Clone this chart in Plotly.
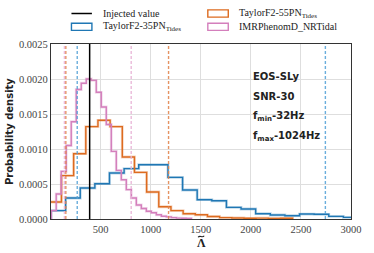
import plotly.graph_objects as go

# ---------------- data ----------------
# TaylorF2-35PN_Tides histogram (bin start, bin width, densities)
f35_start = 4
f35_width = 146
f35_density = [1.19e-4, 3.0e-4, 4.43e-4, 5.04e-4, 6.57e-4, 7.19e-4, 7.76e-4, 7.76e-4,
               5.94e-4, 4.14e-4, 2.76e-4, 2.6e-4, 1.66e-4, 1.43e-4, 7.6e-5, 5.7e-5,
               4.7e-5, 7.1e-5, 6.7e-5, 3.7e-5, 2.3e-5]

# TaylorF2-55PN_Tides histogram
f55_start = -13
f55_width = 121.5
f55_density = [2.43e-4, 6.2e-4, 9.33e-4, 1.32e-3, 1.41e-3, 1.32e-3, 8.86e-4, 6.66e-4,
               3.86e-4, 1.75e-4, 1.2e-4, 7.5e-5, 6.0e-5, 3.5e-5, 2.0e-5, 1.5e-5,
               1.0e-5, 1.2e-5, 8e-6, 1.0e-5]

# IMRPhenomD_NRTidal histogram
imr_start = 6
imr_width = 50
imr_density = [1.2e-4, 3.57e-4, 6.8e-4, 1.05e-3, 1.39e-3, 1.85e-3, 1.94e-3, 2.0e-3,
               1.98e-3, 1.81e-3, 1.6e-3, 1.35e-3, 9.66e-4, 6.94e-4, 5.6e-4, 4.2e-4,
               3.0e-4, 2.0e-4, 1.5e-4, 1.1e-4, 9e-5, 6e-5, 4e-5, 3e-5, 2e-5, 1.2e-5,
               1.0e-5, 8e-6]

# 90% credible bounds (dashed lines) and injected value
f35_bounds = [266, 2744]
f55_bounds = [152, 1178]
imr_bounds = [138, 805]
injected_value = 390

x_ticks = [500, 1000, 1500, 2000, 2500, 3000]
y_ticks = [0.0, 0.0005, 0.0010, 0.0015, 0.0020, 0.0025]

legend_labels = ["Injected value", "TaylorF2-35PN<sub>Tides</sub>",
                 "TaylorF2-55PN<sub>Tides</sub>", "IMRPhenomD_NRTidal"]
info_lines = ["EOS-SLy", "SNR-30", "f<sub>min</sub>-32Hz", "f<sub>max</sub>-1024Hz"]
x_title = "Λ"   # drawn with a tilde accent above
y_title = "Probability density"

# ---------------- styling ----------------
SERIF = "Liberation Serif"
SANS = "DejaVu Sans"
C_BLUE = "#1f77b4"
C_ORANGE = "#dd6b1f"
C_PINK = "#d47fbc"
C_BLUE_D = "rgba(80,160,214,0.85)"
C_ORANGE_D = "rgba(224,128,70,0.85)"
C_PINK_D = "rgba(232,178,214,0.9)"

W, H = 374, 253
L, R, T, B = 51, 359, 44, 219   # plot area in pixels


def px_x(p):
    return (p - L) / (R - L)


def px_y(p):
    return (B - p) / (B - T)


def step_xy(start, width, dens):
    n = len(dens)
    edges = [start + width * k for k in range(n + 1)]
    xs = [edges[0]] + edges[:n] + [edges[n]]
    ys = [0] + list(dens) + [0]
    return xs, ys


fig = go.Figure()

for (start, width, dens, col) in [(f35_start, f35_width, f35_density, C_BLUE),
                                  (f55_start, f55_width, f55_density, C_ORANGE),
                                  (imr_start, imr_width, imr_density, C_PINK)]:
    xs, ys = step_xy(start, width, dens)
    fig.add_trace(go.Scatter(x=xs, y=ys, mode="lines", line_shape="hv",
                             line=dict(color=col, width=2.8), opacity=0.28,
                             showlegend=False, hoverinfo="skip"))
    fig.add_trace(go.Scatter(x=xs, y=ys, mode="lines", line_shape="hv",
                             line=dict(color=col, width=1.4),
                             showlegend=False))

# dashed credible-interval lines
for bounds, col in [(f35_bounds, C_BLUE_D), (f55_bounds, C_ORANGE_D), (imr_bounds, C_PINK_D)]:
    for b in bounds:
        fig.add_shape(type="line", xref="x", yref="paper", x0=b, x1=b, y0=0, y1=1,
                      line=dict(color=col, width=1.4, dash="3px,2px"))

# injected value
fig.add_shape(type="line", xref="x", yref="paper", x0=injected_value, x1=injected_value,
              y0=0, y1=1, line=dict(color="black", width=1.5))

# ---------------- manual legend ----------------
row1, row2 = 13.5, 26.8
fig.add_shape(type="line", xref="paper", yref="paper",
              x0=px_x(72), x1=px_x(93), y0=px_y(row1), y1=px_y(row1),
              line=dict(color="black", width=1.5))
for (x0, yc, col) in [(72, row2, C_BLUE), (212, row1, C_ORANGE), (212, row2, C_PINK)]:
    fig.add_shape(type="rect", xref="paper", yref="paper",
                  x0=px_x(x0), x1=px_x(x0 + 21), y0=px_y(yc + 3.6), y1=px_y(yc - 3.6),
                  line=dict(color=col, width=1.4), fillcolor="white")
for (tx, yc, txt) in [(102, row1, legend_labels[0]), (102, row2, legend_labels[1]),
                      (242, row1, legend_labels[2]), (242, row2, legend_labels[3])]:
    fig.add_annotation(xref="paper", yref="paper", x=px_x(tx), y=px_y(yc), text=txt,
                       showarrow=False, xanchor="left", yanchor="middle",
                       font=dict(family=SERIF, size=10, color="#222"))

# ---------------- info text ----------------
for yc, txt in zip([76, 96.7, 116, 136.7], info_lines):
    fig.add_annotation(xref="paper", yref="paper", x=px_x(256), y=px_y(yc),
                       text="<b>" + txt + "</b>", showarrow=False,
                       xanchor="left", yanchor="middle",
                       font=dict(family=SANS, size=10, color="#222"))

# axis titles
fig.add_annotation(xref="paper", yref="paper", x=px_x(8.5), y=0.5,
                   text="<b>" + y_title + "</b>", textangle=-90, showarrow=False,
                   xanchor="center", yanchor="middle",
                   font=dict(family=SANS, size=10, color="#222"))
fig.add_annotation(xref="paper", yref="paper", x=px_x(205), y=px_y(243),
                   text="<b>" + x_title + "</b>", showarrow=False,
                   xanchor="center", yanchor="middle",
                   font=dict(family=SERIF, size=12, color="#222"))
# tilde accent over the Lambda
tx = [202.0, 204.0, 206.2, 208.3]
ty = [237.3, 234.6, 238.6, 235.8]
tilde_path = "M {},{} C {},{} {},{} {},{}".format(
    px_x(tx[0]), px_y(ty[0]), px_x(tx[1]), px_y(ty[1]),
    px_x(tx[2]), px_y(ty[2]), px_x(tx[3]), px_y(ty[3]))
fig.add_shape(type="path", xref="paper", yref="paper", path=tilde_path,
              line=dict(color="#222", width=1.1))

fig.update_layout(
    width=W, height=H,
    margin=dict(l=L, r=W - R, t=T, b=H - B, pad=0),
    paper_bgcolor="white", plot_bgcolor="white",
    showlegend=False,
)
fig.update_xaxes(range=[4, 3000], tickvals=x_ticks, ticktext=[str(v) for v in x_ticks],
                 showgrid=True, gridcolor="#dedede", gridwidth=1,
                 showline=True, mirror=True, linecolor="#333", linewidth=1.2,
                 ticks="", zeroline=False,
                 tickfont=dict(family=SERIF, size=10.5, color="#444"))
fig.update_yaxes(range=[0, 0.0025], tickvals=y_ticks, tickformat=".4f",
                 showgrid=True, gridcolor="#dedede", gridwidth=1,
                 showline=True, mirror=True, linecolor="#333", linewidth=1.2,
                 ticks="", zeroline=False,
                 tickfont=dict(family=SERIF, size=10.5, color="#444"))

fig.write_html("out.html", config={"displayModeBar": False},
               post_script="document.body.style.margin='0';document.body.style.padding='0';")
